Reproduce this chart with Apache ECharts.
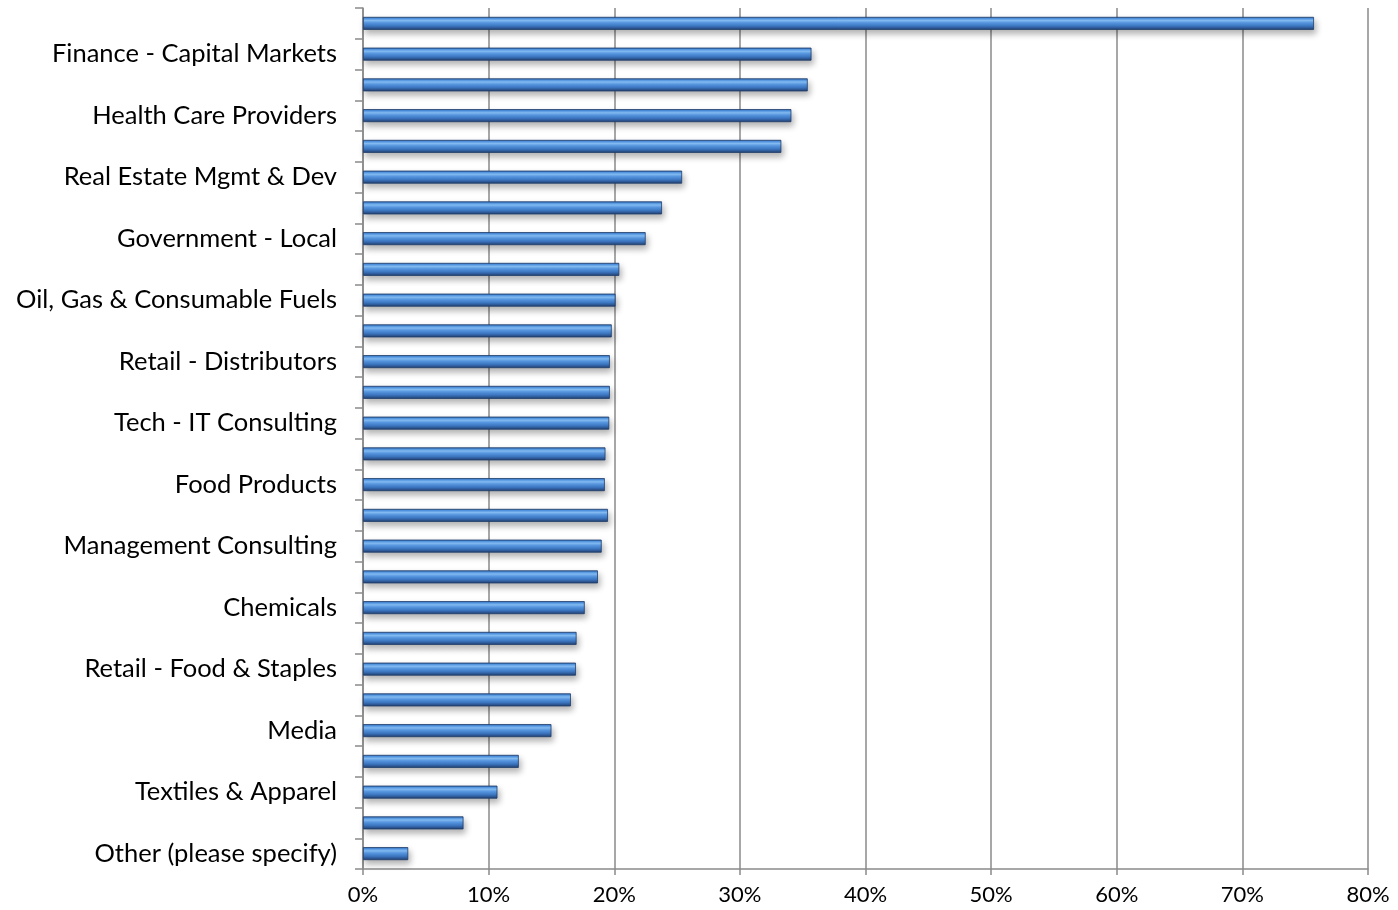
<!DOCTYPE html>
<html>
<head>
<meta charset="utf-8">
<script src="https://cdn.jsdelivr.net/npm/echarts@6/dist/echarts.min.js"></script>
<style>
  html, body { margin: 0; padding: 0; background: #ffffff; }
  #chart { width: 1398px; height: 910px; }
</style>
</head>
<body>
<div id="chart"></div>
<script>
// Industry categories, top to bottom; every other row carries a visible label.
const categories = [
  '', 'Finance - Capital Markets',
  '', 'Health Care Providers',
  '', 'Real Estate Mgmt & Dev',
  '', 'Government - Local',
  '', 'Oil, Gas & Consumable Fuels',
  '', 'Retail - Distributors',
  '', 'Tech - IT Consulting',
  '', 'Food Products',
  '', 'Management Consulting',
  '', 'Chemicals',
  '', 'Retail - Food & Staples',
  '', 'Media',
  '', 'Textiles & Apparel',
  '', 'Other (please specify)'
];

// Share of respondents, in percent.
const shares = [
  75.7, 35.7, 35.4, 34.1, 33.3, 25.4, 23.8, 22.5,
  20.4, 20.1, 19.8, 19.65, 19.65, 19.6, 19.3, 19.25,
  19.5, 19.0, 18.7, 17.65, 17.0, 16.95, 16.55, 15.0,
  12.4, 10.7, 8.0, 3.6
];

const xTicks = { min: 0, max: 80, step: 10 };

const chart = echarts.init(document.getElementById('chart'));

const labelFont = 'Lato, "Open Sans", "Noto Sans", sans-serif';
const axisGrey = '#8a8a8a';

chart.setOption({
  animation: false,
  backgroundColor: '#ffffff',
  grid: { left: 363, right: 30, top: 8, bottom: 41, containLabel: false },
  xAxis: {
    type: 'value',
    min: xTicks.min,
    max: xTicks.max,
    interval: xTicks.step,
    axisLine: { show: true, lineStyle: { color: axisGrey, width: 1.5 } },
    axisTick: { show: true, length: 6, lineStyle: { color: axisGrey, width: 1.5 } },
    splitLine: { show: true, lineStyle: { color: axisGrey, width: 1.5 } },
    axisLabel: {
      formatter: v => v + '%',
      color: '#000000',
      fontSize: 22,
      fontFamily: labelFont,
      margin: 15
    }
  },
  yAxis: {
    type: 'category',
    inverse: true,
    data: categories,
    axisLine: { show: true, lineStyle: { color: axisGrey, width: 1.5 } },
    axisTick: { show: true, interval: 0, length: 8, lineStyle: { color: axisGrey, width: 1.5 } },
    splitLine: { show: false },
    axisLabel: {
      interval: (index) => index % 2 === 1,
      color: '#000000',
      fontSize: 25.5,
      fontFamily: labelFont,
      margin: 26
    }
  },
  series: [{
    type: 'bar',
    data: shares,
    barWidth: 13,
    itemStyle: {
      color: new echarts.graphic.LinearGradient(0, 0, 0, 1, [
        { offset: 0.0, color: '#2b5c9c' },
        { offset: 0.12, color: '#4e92e2' },
        { offset: 0.28, color: '#86c0f7' },
        { offset: 0.45, color: '#5a9ae6' },
        { offset: 0.7, color: '#3d78c4' },
        { offset: 0.88, color: '#2c5590' },
        { offset: 1.0, color: '#1e3b66' }
      ]),
      borderColor: '#1f3e6c',
      borderWidth: 0.8,
      shadowColor: 'rgba(0,0,0,0.3)',
      shadowBlur: 6,
      shadowOffsetX: 2,
      shadowOffsetY: 4
    }
  }]
});
</script>
</body>
</html>
